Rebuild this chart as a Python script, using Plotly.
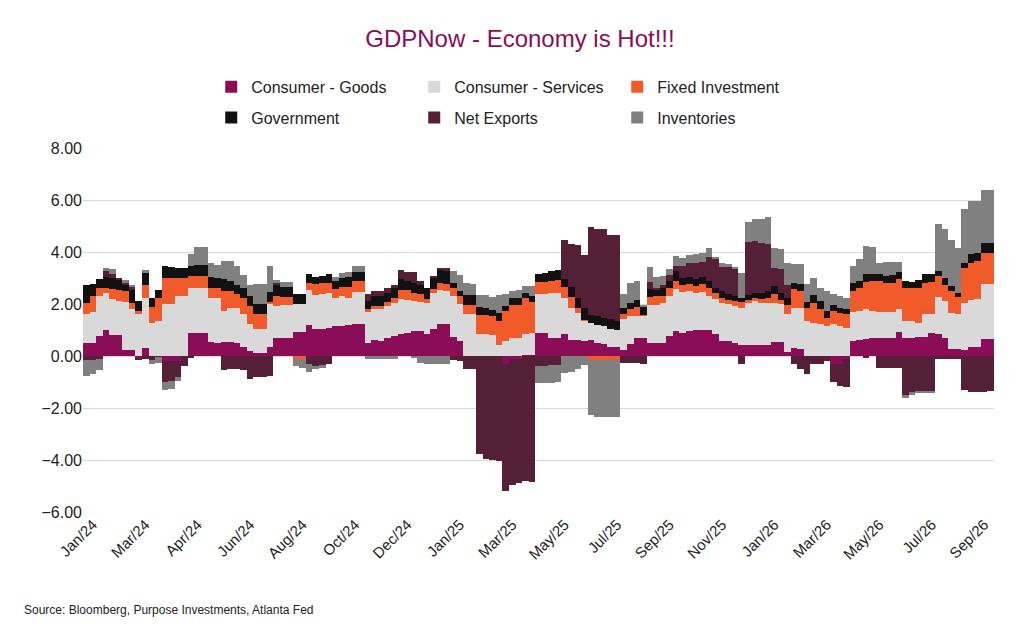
import plotly.graph_objects as go

goods = [0.5,0.5,0.77,0.99,0.8,0.8,0.23,0.23,-0.08,0.3,
 0,0,-0.2,-0.2,-0.2,0,0.9,0.9,0.9,0.55,
 0.5,0.55,0.55,0.5,0.35,0.2,0.1,0.1,0.36,0.7,
 0.7,0.7,0.92,0.92,1.18,1.03,1.03,1.09,1.15,1.15,
 1.18,1.22,1.22,0.51,0.6,0.58,0.7,0.77,0.86,0.9,
 0.96,0.96,0.86,1.03,1.24,1.24,0.73,0.58,0,0,
 0,0,0,0,-0.3,-0.1,-0.1,0.05,0.05,0.9,
 0.9,0.7,0.7,0.86,0.6,0.6,0.58,0.62,0.51,0.45,
 0.35,0.35,0.22,0.47,0.7,0.7,0.51,0.51,0.51,0.77,
 0.96,0.9,0.96,0.99,1.0,0.99,0.83,0.58,0.58,0.51,
 0.42,0.42,0.42,0.42,0.42,0.54,0.54,0.17,0.32,0.26,
 0,0,0,0,-0.3,-0.3,-0.1,0.58,0.6,0.64,
 0.7,0.68,0.7,0.7,0.94,0.68,0.68,0.73,0.73,0.9,
 0.83,0.7,0.26,0.26,0.22,0.35,0.35,0.64,0.64]
services = [1.1,1.2,1.53,1.45,1.38,1.32,1.85,1.57,1.6,1.94,
 1.28,1.35,2.0,1.99,2.3,2.3,1.73,1.73,1.73,1.69,
 1.74,1.18,1.31,1.36,1.25,1.02,0.93,0.93,1.63,1.22,
 1.28,1.28,1.07,1.07,1.36,1.32,1.35,1.35,1.07,1.15,
 1.07,1.25,1.23,1.19,1.19,1.21,1.22,1.28,1.32,1.24,
 1.15,1.13,1.19,1.41,1.3,1.27,1.58,1.41,1.6,1.6,
 0.86,0.83,0.81,0.42,0.58,0.7,0.7,0.81,0.84,1.5,
 1.5,1.73,1.73,1.38,1.26,1.07,0.77,0.66,0.7,0.7,
 0.68,0.65,1.19,1.07,0.84,0.84,1.47,1.47,1.54,1.54,
 1.6,1.56,1.54,1.45,1.45,1.32,1.35,1.47,1.41,1.41,
 1.44,1.63,1.7,1.63,1.63,1.49,1.45,1.43,1.54,1.6,
 1.35,1.28,1.24,1.15,1.24,1.15,1.09,1.13,1.13,1.15,
 1.03,1.01,0.99,0.99,0.86,0.67,0.67,0.55,0.87,0.71,
 1.44,1.41,1.41,1.37,1.83,1.79,1.83,2.14,2.14]
fixed_inv = [0.45,0.6,0.33,0.19,0.38,0.4,0.42,0.25,0.13,0.51,
 0.62,0.9,1.0,1.0,0.7,0.7,0.45,0.45,0.45,0.39,
 0.39,0.77,0.64,0.51,0.65,0.7,0.58,0.58,0.1,0.38,
 0.3,0.3,-0.1,-0.1,0.26,0.43,0.43,0.35,0.35,0.35,
 0.4,0.42,0.45,0.09,0.13,0.13,0.17,0.19,0.36,0.38,
 0.32,0.28,0.15,0.13,0.26,0.26,0.32,0.32,0.38,0.38,
 0.72,0.74,0.74,0.93,1.15,1.26,1.28,1.36,1.2,0.45,
 0.45,0.47,0.5,0.41,0.41,0.19,0.05,-0.15,-0.15,-0.15,
 -0.15,-0.15,0.19,0.26,0.36,0.05,0.28,0.32,0.26,0.32,
 0.32,0.29,0.26,0.26,0.32,0.32,0.26,0.19,0.15,0.19,
 0.2,0.1,0.1,0.13,0.19,0.35,0.15,0.36,0.7,0.64,
 0.51,0.77,0.55,0.32,0.49,0.51,0.51,0.8,0.9,1.06,
 1.15,1.19,1.13,1.13,1.15,1.28,1.28,1.35,1.22,1.22,
 0.81,0.64,0.83,0.64,1.35,1.45,1.47,1.19,1.19]
government = [0.67,0.48,0.34,0.41,0.43,0.42,0.26,0.5,0.38,0.45,
 0.35,0.3,0.45,0.45,0.38,0.38,0.4,0.41,0.41,0.41,
 0.38,0.45,0.38,0.38,0.38,0.38,0.38,0.38,0.38,0.45,
 0.38,0.38,0.38,0.38,0.35,0.26,0.26,0.38,0.32,0.35,
 0.38,0.35,0.35,0.32,0.38,0.38,0.35,0.38,0.41,0.38,
 0.38,0.38,0.42,0.45,0.5,0.5,0.19,0.19,0.38,0.38,
 0.32,0.28,0.22,0.32,0.19,0.28,0.24,0.22,0.2,0.32,
 0.34,0.36,0.36,0.33,0.4,0.38,0.45,0.3,0.32,0.32,
 0.38,0.36,0.26,0.22,0.24,0.28,0.3,0.26,0.32,0.26,
 0.38,0.26,0.26,0.26,0.26,0.26,0.19,0.26,0.23,0.19,
 0.19,0.19,0.2,0.26,0.26,0.32,0.3,0.28,0.26,0.26,
 0.22,0.28,0.32,0.26,0.22,0.19,0.22,0.28,0.26,0.3,
 0.26,0.26,0.26,0.3,0.3,0.26,0.2,0.3,0.32,0.32,
 0.19,0.26,0.19,0.17,0.19,0.32,0.32,0.38,0.38]
net_exports = [-0.15,-0.15,-0.1,0.23,0.18,0.05,0.05,0.1,-0.08,-0.1,
 -0.15,-0.05,-0.8,-0.75,-0.6,-0.4,-0.05,0,0,0,
 0,-0.55,-0.5,-0.5,-0.55,-0.9,-0.8,-0.8,-0.75,0.05,
 0,0,0,0,-0.3,-0.4,-0.35,-0.3,0,0,
 0,0,0,0.26,0.2,0.2,0.19,0.13,0.35,0.33,
 0.42,0.13,0,0.06,0.1,0.1,-0.15,-0.2,-0.5,-0.5,
 -3.75,-3.95,-4.0,-4.05,-4.9,-4.85,-4.8,-4.8,-4.85,-0.4,
 -0.4,-0.35,-0.35,1.5,1.63,2.03,2.05,3.4,3.37,3.4,
 3.23,3.3,-0.25,-0.25,-0.25,-0.3,0.3,0.06,0.1,0.23,
 0.19,0.45,0.54,0.6,0.58,0.9,1.13,0.94,1.05,1.06,
 -0.3,2.06,2.0,1.92,1.8,0.7,0.9,0.5,-0.3,-0.5,
 -0.7,-0.3,-0.3,-0.2,-0.7,-0.85,-1.1,0,0,-0.05,
 0,-0.45,-0.45,-0.45,-0.45,-1.5,-1.4,-1.35,-1.35,-1.35,
 -0.13,-0.13,-0.13,-0.13,-1.3,-1.4,-1.4,-1.4,-1.35]
inventories = [-0.6,-0.55,-0.45,0.13,0.18,0,0.1,0.1,0,0.1,
 -0.15,-0.2,-0.3,-0.3,-0.15,0,0.45,0.7,0.7,0.55,
 0.5,0.7,0.77,0.7,0.5,0.45,0.77,0.77,1.0,0.13,
 0.17,0.17,-0.3,-0.35,-0.3,-0.1,-0.1,0,0.15,0.2,
 0.19,0.23,0.2,-0.1,-0.1,-0.1,-0.1,-0.1,0,0,
 -0.05,-0.25,-0.3,-0.3,-0.3,-0.3,0.45,0.6,0.45,0.42,
 0.44,0.51,0.5,0.67,0.47,0.26,0.3,0.26,0.4,-0.65,
 -0.65,-0.7,-0.65,-0.65,-0.6,-0.5,-0.35,-2.1,-2.2,-2.2,
 -2.2,-2.2,0.54,0.8,0.74,0.1,0.58,0.41,0.35,0.22,
 0.38,0.32,0.32,0.36,0.35,0.38,0.05,0.12,0.13,0.05,
 0.94,0.77,0.85,0.9,1.03,0.77,0.77,0.83,0.7,0.77,
 0.68,0.68,0.51,0.77,0.42,0.45,0.42,0.68,0.83,1.09,
 1.05,0.45,0.55,0.5,0.35,-0.1,-0.1,-0.05,-0.05,-0.05,
 1.79,1.86,1.76,1.73,2.05,2.05,2.0,2.05,2.05]

tick_positions = [1,9,17,25,33,41,49,57,65,73,81,89,97,105,113,121,129,137]
tick_labels = ["Jan/24","Mar/24","Apr/24","Jun/24","Aug/24","Oct/24","Dec/24","Jan/25","Mar/25",
               "May/25","Jul/25","Sep/25","Nov/25","Jan/26","Mar/26","May/26","Jul/26","Sep/26"]

x = list(range(len(goods)))
series = [
    ("Consumer - Goods", goods, "#8B0D57", "legend"),
    ("Consumer - Services", services, "#D9D9D9", "legend"),
    ("Fixed Investment", fixed_inv, "#F15A29", "legend"),
    ("Government", government, "#111111", "legend2"),
    ("Net Exports", net_exports, "#561F38", "legend2"),
    ("Inventories", inventories, "#808080", "legend2"),
]
fig = go.Figure()
for name, vals, col, lg in series:
    fig.add_trace(go.Bar(x=x, y=vals, name=name, marker_color=col, marker_line_width=0, legend=lg))

legstyle = dict(orientation="h", xanchor="center", x=0.475, entrywidth=158, yanchor="top",
                font=dict(family="Liberation Sans, Arial", size=16, color="#222"), bgcolor="rgba(0,0,0,0)")
fig.update_layout(
    barmode="relative", bargap=0,
    width=1024, height=635,
    paper_bgcolor="white", plot_bgcolor="white",
    margin=dict(l=75, r=38, t=140, b=131),
    title=dict(text="GDPNow - Economy is Hot!!!", x=0.5, xanchor="center", y=0.952, yanchor="middle",
               font=dict(family="Liberation Sans, Arial", size=24, color="#8B0D57")),
    legend=dict(y=1.215, **legstyle),
    legend2=dict(y=1.13, **legstyle),
    xaxis=dict(range=[-0.5, len(goods) - 0.5], tickvals=tick_positions, ticktext=tick_labels,
               tickangle=-45, showgrid=False, zeroline=False, showline=False,
               tickfont=dict(family="Liberation Sans, Arial", size=15, color="#222")),
    yaxis=dict(range=[-6, 8], dtick=2, tick0=0, tickformat=".2f", showgrid=True,
               gridcolor="#D9D9D9", zeroline=False,
               tickfont=dict(family="Liberation Sans, Arial", size=16, color="#222")),
    annotations=[dict(text="Source: Bloomberg, Purpose Investments, Atlanta Fed", xref="paper", yref="paper",
                      x=-0.067, y=-0.27, xanchor="left", yanchor="middle", showarrow=False,
                      font=dict(family="Liberation Sans, Arial", size=12, color="#222"))],
)
fig.write_html("out.html")
